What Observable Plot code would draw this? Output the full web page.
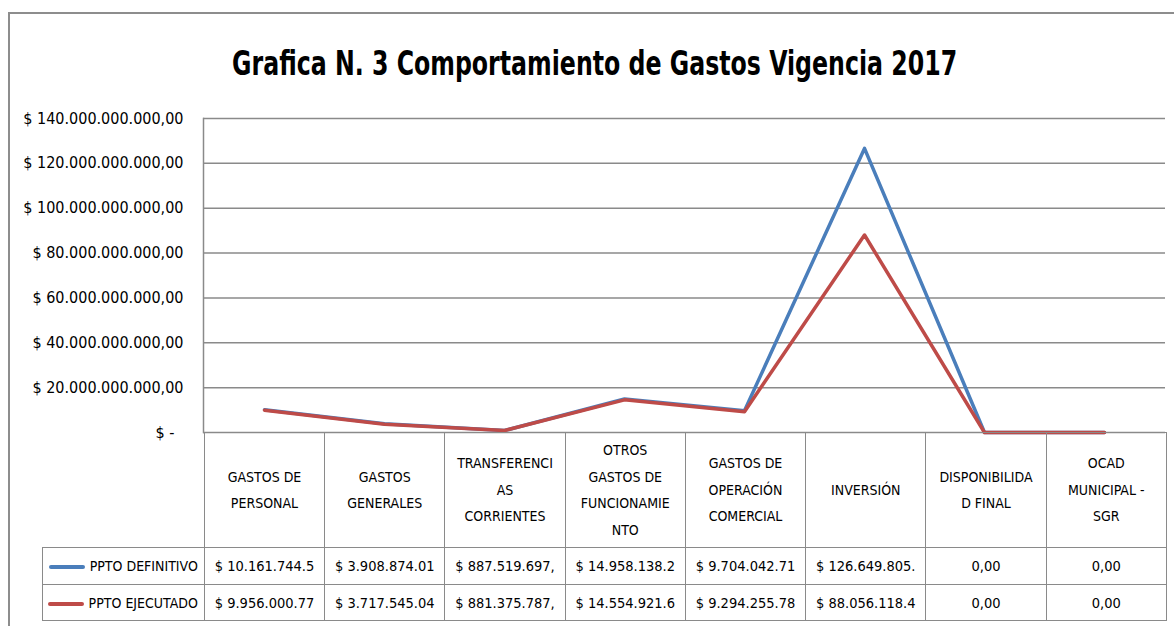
<!DOCTYPE html>
<html><head><meta charset="utf-8">
<script src="https://cdn.jsdelivr.net/npm/d3@7"></script>
<script src="https://cdn.jsdelivr.net/npm/@observablehq/plot@0.6"></script>
<style>
body{margin:0;background:#fff;}
#wrap{position:relative;width:1174px;height:626px;overflow:hidden;font-family:"Liberation Sans Narrow","DejaVu Sans Condensed",sans-serif;color:#000;}
#border{position:absolute;left:8px;top:12px;width:1300px;height:700px;border-left:2px solid #8d8d8d;border-top:2px solid #8d8d8d;}
#title{position:absolute;top:43px;left:8px;width:1174px;text-align:center;font-weight:bold;font-size:34px;white-space:nowrap;}
#title span{display:inline-block;transform-origin:center;}
#chart{position:absolute;left:0;top:0;}
#tbl{position:absolute;border-collapse:collapse;table-layout:fixed;}
#tbl td{border:1.5px solid #8a8a8a;text-align:center;padding:0;overflow:hidden;white-space:nowrap;}
#tbl td.hdr{font-size:14px;line-height:26.5px;white-space:pre;}
#tbl td.val{font-size:14.5px;}
#tbl td.blank{border-left:none;border-top:none;border-bottom:1.5px solid #8a8a8a;}
#tbl td.leg{font-size:14px;text-align:right;padding-right:6px;}
.sw{display:inline-block;width:36px;height:4px;vertical-align:middle;margin-right:5px;border-radius:2px;}
</style></head><body>
<div id="wrap">
  <div id="border"></div>
  <div id="title"><span>Grafica N. 3 Comportamiento de Gastos Vigencia 2017</span></div>
  <div id="chart"></div>
  <table id="tbl"></table>
</div>
<script>
const categories = ["GASTOS DE PERSONAL","GASTOS GENERALES","TRANSFERENCIAS CORRIENTES","OTROS GASTOS DE FUNCIONAMIENTO","GASTOS DE OPERACIÓN COMERCIAL","INVERSIÓN","DISPONIBILIDAD FINAL","OCAD MUNICIPAL - SGR"];
const headerLabels = ["GASTOS DE\nPERSONAL","GASTOS\nGENERALES","TRANSFERENCI\nAS\nCORRIENTES","OTROS\nGASTOS DE\nFUNCIONAMIE\nNTO","GASTOS DE\nOPERACIÓN\nCOMERCIAL","INVERSIÓN","DISPONIBILIDA\nD FINAL","OCAD\nMUNICIPAL -\nSGR"];
const seriesNames = ["PPTO DEFINITIVO","PPTO EJECUTADO"];
const seriesColors = ["#4A7EBB","#BE4B48"];
const definitivo = [10161744500, 3908874010, 887519697, 14958138200, 9704042710, 126649805000, 0, 0];
const ejecutado  = [9956000770, 3717545040, 881375787, 14554921600, 9294255780, 88056118400, 0, 0];
const definitivoLabels = ["$ 10.161.744.5","$ 3.908.874.01","$ 887.519.697,","$ 14.958.138.2","$ 9.704.042.71","$ 126.649.805.","0,00","0,00"];
const ejecutadoLabels  = ["$ 9.956.000.77","$ 3.717.545.04","$ 881.375.787,","$ 14.554.921.6","$ 9.294.255.78","$ 88.056.118.4","0,00","0,00"];
const yTicks = [0,20e9,40e9,60e9,80e9,100e9,120e9,140e9];

const fmtLocale = d3.formatLocale({decimal:",", thousands:".", grouping:[3], currency:["$",""]});
const fmt = fmtLocale.format(",.2f");
const tickFormat = d => d === 0 ? "$ -\u00a0\u00a0" : "$ " + fmt(d);

const rows = [];
categories.forEach((c,i)=>{
  rows.push({cat:c, value:definitivo[i], series:seriesNames[0]});
  rows.push({cat:c, value:ejecutado[i], series:seriesNames[1]});
});

const W = 1174, mL = 203, mR = 9, mT = 118, mB = 20, H = 452;
const plot = Plot.plot({
  width: W, height: H,
  marginLeft: mL, marginRight: mR, marginTop: mT, marginBottom: mB,
  style: {fontFamily: '"Liberation Sans Narrow","DejaVu Sans Condensed",sans-serif', background: "transparent", color: "#000"},
  x: {type: "point", domain: categories, padding: 0.5, axis: null},
  y: {domain: [0, 140e9], ticks: yTicks, axis: null},
  color: {domain: seriesNames, range: seriesColors},
  marks: [
    Plot.gridY(yTicks, {stroke: "#8a8a8a", strokeOpacity: 1, strokeWidth: 1.5}),
    Plot.frame({anchor: "left", stroke: "#8a8a8a", strokeWidth: 1.5}),
    Plot.axisY(yTicks, {tickFormat, tickSize: 0, tickPadding: 20, fontSize: 16, fill: "#000", label: null}),
    Plot.line(rows, {x: "cat", y: "value", z: "series", stroke: "series", strokeWidth: 3.5})
  ]
});
document.getElementById("chart").appendChild(plot);

// table aligned to the x scale
const xs = plot.scale("x");
const step = (xs.range[1] - xs.range[0]) / (xs.domain.length - 1 + 2 * xs.padding);
const firstLeft = xs.apply(categories[0]) - step / 2;
const legLeft = 42;
const tbl = document.getElementById("tbl");
tbl.style.left = legLeft + "px";
tbl.style.top = (H - mB) + "px";
const colg = document.createElement("colgroup");
let cw = document.createElement("col"); cw.style.width = (firstLeft - legLeft) + "px"; colg.appendChild(cw);
categories.forEach(()=>{ const c = document.createElement("col"); c.style.width = step + "px"; colg.appendChild(c); });
tbl.appendChild(colg);
tbl.style.width = (firstLeft - legLeft + step * categories.length) + "px";

let tr = document.createElement("tr"); tr.style.height = "115px";
let td = document.createElement("td"); td.className = "blank"; tr.appendChild(td);
headerLabels.forEach(h => { const t = document.createElement("td"); t.className = "hdr"; t.textContent = h; tr.appendChild(t); });
tbl.appendChild(tr);
[[definitivoLabels,0],[ejecutadoLabels,1]].forEach(([labs,k])=>{
  const r = document.createElement("tr"); r.style.height = (k===0?37:36) + "px";
  const l = document.createElement("td"); l.className = "leg";
  l.innerHTML = '<span class="sw" style="background:'+seriesColors[k]+'"></span>' + seriesNames[k];
  r.appendChild(l);
  labs.forEach(v => { const t = document.createElement("td"); t.className = "val"; t.textContent = v; r.appendChild(t); });
  tbl.appendChild(r);
});

// fit title width to reference
const ts = document.querySelector("#title span");
const tw = ts.getBoundingClientRect().width;
ts.style.transform = "scaleX(" + (725 / tw) + ")";
</script>
</body></html>
